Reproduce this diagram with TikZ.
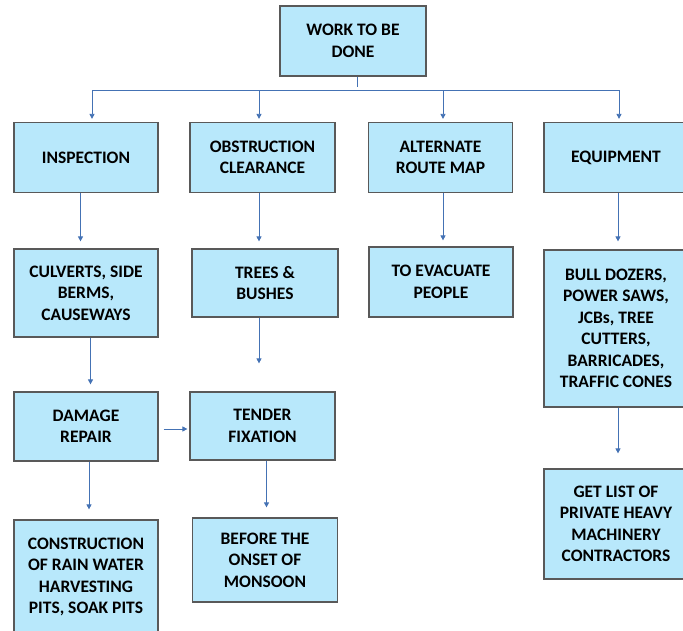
\documentclass[tikz,border=0pt]{standalone}
\usepackage{fontspec}
\setmainfont{Carlito}
\usetikzlibrary{arrows.meta}
\colorlet{box area}{cyan!28!white}
\colorlet{box edge}{black!65}
\definecolor{link}{RGB}{68,114,180}
\tikzset{task/.style={draw=box edge, fill=box area, line width=1.2pt,
	align=center, inner sep=2pt, font=\fontsize{17.5}{21.5}\selectfont\bfseries},
	link/.style={draw=link, line width=0.8pt, -{Triangle[length=5pt,width=5pt]}, shorten >=3pt}}

\begin{document}
\begin{tikzpicture}[x=1pt,y=-1pt]
		\useasboundingbox (0,0) rectangle (683,631);
		\clip (0,0) rectangle (683,631);
		\node[task, minimum width=146pt, minimum height=70pt] (work) at (353,41) {WORK TO BE\\DONE};
		
		\node[task, minimum width=144pt, minimum height=70pt] (insp) at (86,157.5) {INSPECTION};
		\node[task, minimum width=145pt, minimum height=70pt] (obst) at (262.5,157.5) {OBSTRUCTION\\CLEARANCE};
		\node[task, minimum width=144pt, minimum height=70pt] (route) at (440.5,157.5) {ALTERNATE\\ROUTE MAP};
		\node[task, minimum width=144pt, minimum height=70pt] (equip) at (616,157.5) {EQUIPMENT};
		
		\node[task, minimum width=144pt, minimum height=88pt] (culv) at (86,293) {CULVERTS, SIDE\\BERMS,\\CAUSEWAYS};
		\node[task, minimum width=146pt, minimum height=68pt] (trees) at (265,283) {TREES \&\\BUSHES};
		\node[task, minimum width=144pt, minimum height=70pt] (evac) at (441,282) {TO EVACUATE\\PEOPLE};
		\node[task, minimum width=144pt, minimum height=157pt] (dozers) at (616,328.5) {BULL DOZERS,\\POWER SAWS,\\JCBs, TREE\\CUTTERS,\\BARRICADES,\\TRAFFIC CONES};
		
		\node[task, minimum width=144pt, minimum height=69pt] (damage) at (86,426.5) {DAMAGE\\REPAIR};
		\node[task, minimum width=145pt, minimum height=68pt] (tender) at (262.5,426) {TENDER\\FIXATION};
		\node[task, minimum width=144pt, minimum height=110pt] (list) at (616,524) {GET LIST OF\\PRIVATE HEAVY\\MACHINERY\\CONTRACTORS};
		
		\node[task, minimum width=144pt, minimum height=114pt] (pits) at (86,577) {CONSTRUCTION\\OF RAIN WATER\\HARVESTING\\PITS, SOAK PITS};
		\node[task, minimum width=145pt, minimum height=84pt] (onset) at (265,560) {BEFORE THE\\ONSET OF\\MONSOON};
		
		% top level fan out
		\coordinate (bus) at ([xshift=4pt]work.south |- 0,90);
		\draw[link, -] ([xshift=4pt]work.south) -- (bus);
		\draw[link] (bus) -| ([xshift=6pt]insp.north);
		\draw[link] (bus) -| ([xshift=-3.5pt]obst.north);
		\draw[link] (bus) -| ([xshift=2.5pt]route.north);
		\draw[link] (bus) -| ([xshift=3pt]equip.north);
		
		\draw[link, shorten >=7pt] ([xshift=-5.5pt]insp.south) -- ([xshift=-5.5pt]culv.north);
		\draw[link, shorten >=7pt] ([xshift=-3.5pt]obst.south) -- ([xshift=-6pt]trees.north);
		\draw[link, shorten >=6pt] ([xshift=2.5pt]route.south) -- ([xshift=2pt]evac.north);
		\draw[link, shorten >=8pt] ([xshift=2pt]equip.south) -- ([xshift=2pt]dozers.north);
		
		\draw[link, shorten >=7pt] ([xshift=4.5pt]culv.south) -- ([xshift=4.5pt]damage.north);
		\draw[link, shorten >=28pt] ([xshift=-6pt]trees.south) -- ([xshift=-3.5pt]tender.north);
		\draw[link, shorten <=5pt, shorten >=2pt] (damage.east |- 0,429) -- (tender.west |- 0,429);
		\draw[link, shorten >=15pt] ([xshift=2pt]dozers.south) -- ([xshift=2pt]list.north);
		
		\draw[link, shorten >=10pt] ([xshift=3pt]damage.south) -- ([xshift=3pt]pits.north);
		\draw[link, shorten >=10pt] ([xshift=4pt]tender.south) -- ([xshift=1.5pt]onset.north);
		\end{tikzpicture}
\end{document}
